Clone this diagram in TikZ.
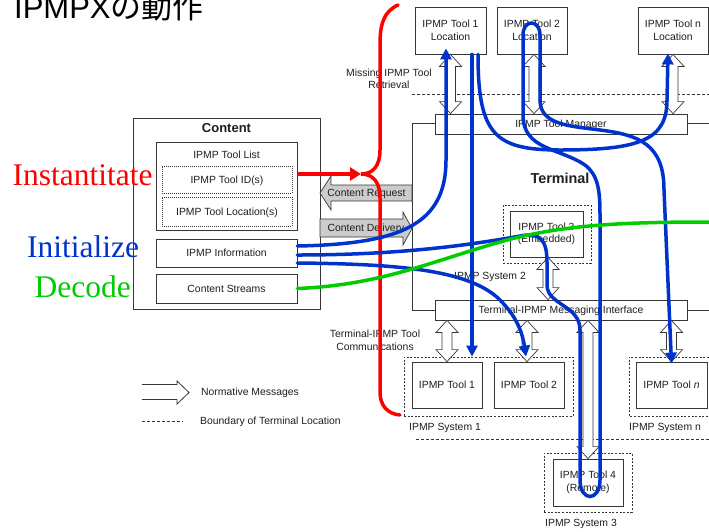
\documentclass[tikz,border=0pt]{standalone}
\usepackage{fontspec}
\setmainfont{Liberation Sans}
\newfontfamily\romanfont{Liberation Serif}
\newfontfamily\cjkfont{Noto Sans CJK JP}
\usetikzlibrary{arrows.meta,calc}

\definecolor{flowred}{RGB}{255,0,0}
\definecolor{flowblue}{RGB}{0,51,204}
\definecolor{flowgreen}{RGB}{0,204,0}
\definecolor{ink}{RGB}{30,30,30}
\definecolor{edge}{RGB}{55,55,55}

% vertical hollow double-headed arrow between two points (top first)
\newcommand\hollowpair[2]{%
  \draw[hollow] let \p1=#1, \p2=#2 in
    (\x1,\y1) -- (\x1-11pt,\y1-12pt) -- (\x1-5pt,\y1-12pt) -- (\x1-5pt,\y2+12pt)
    -- (\x1-11pt,\y2+12pt) -- (\x1,\y2) -- (\x1+11pt,\y2+12pt) -- (\x1+5pt,\y2+12pt)
    -- (\x1+5pt,\y1-12pt) -- (\x1+11pt,\y1-12pt) -- cycle;}

\tikzset{
  base/.style={font=\fontsize{10.4}{12.5}\selectfont, text=ink, inner sep=0pt},
  lbl/.style={base, text height=7.5pt, text depth=0pt},
  box/.style={lbl, draw=edge, line width=0.8pt, fill=white},
  box2/.style={base, align=center, draw=edge, line width=0.8pt, fill=white},
  dotbox/.style={lbl, draw=edge, line width=0.8pt, dash pattern=on 1pt off 1pt},
  dashbox/.style={draw=edge, line width=0.8pt, dash pattern=on 2pt off 1.6pt, inner sep=0pt},
  hollow/.style={draw=edge, fill=white, line width=0.7pt, line join=miter},
  bound/.style={draw=edge, line width=0.8pt, dash pattern=on 3pt off 2pt},
  msgarrow/.style={draw=edge, line width=0.7pt, fill=gray!40, line join=miter},
  flow/.style={line width=3.5pt, line cap=round},
  tipb/.style={-{Triangle[length=11pt,width=11pt]}},
  big/.style={font=\romanfont\fontsize{31.5}{36}\selectfont, inner sep=0pt},
}

\begin{document}
\begin{tikzpicture}[x=1pt,y=-1pt]
\useasboundingbox (0,0) rectangle (709,531);

% title
\node[anchor=base west, inner sep=0pt, font=\fontsize{31}{36}\selectfont, text=black]
  (title) at (14,18.5) {IPMPX{\cjkfont の動作}};

% terminal frame and location boundaries
\draw[draw=edge, line width=0.8pt] (709,123) -| (412,310) -- (709,310);
\draw[bound] (412,94) -- (709,94);
\draw[bound] (416,439) -- (709,439);

% content
\node[box, minimum width=187, minimum height=191] (content) at (226.5,213.5) {};
\node[lbl, font=\bfseries\fontsize{13}{15}\selectfont, text height=9.3pt] (contenttitle) at (226.5,128) {Content};
\node[box, minimum width=141, minimum height=88] (toollist) at (226.5,186) {};
\node[lbl] (toollisttitle) at (226.5,155) {IPMP Tool List};
\node[dotbox, minimum width=130, minimum height=27] (toolid) at (227,179.5) {IPMP Tool ID(s)};
\node[dotbox, minimum width=130, minimum height=29] (toolloc) at (227,211.5) {IPMP Tool Location(s)};
\node[box, minimum width=141, minimum height=28] (info) at (226.5,253) {IPMP Information};
\node[box, minimum width=141, minimum height=29] (streams) at (226.5,288.5) {Content Streams};

% content request / delivery
\draw[msgarrow] (412,185) -- (331,185) -- (331,176) -- (320,193) -- (331,210) -- (331,201) -- (412,201) -- cycle;
\node[lbl] (reqlbl) at (366.5,193) {Content Request};
\draw[msgarrow] (320,219) -- (403,219) -- (403,212) -- (412,228.5) -- (403,245) -- (403,237) -- (320,237) -- cycle;
\node[lbl] (dellbl) at (366,228) {Content Delivery};

% terminal
\node[box, minimum width=252, minimum height=20] (manager) at (561,124) {IPMP Tool Manager};
\node[box, minimum width=252, minimum height=20] (msgif) at (561,310) {Terminal-IPMP Messaging Interface};
\node[lbl, font=\bfseries\fontsize{14.4}{17}\selectfont, text height=10.3pt] (termtitle) at (560,178.5) {Terminal};

% tool locations
\node[box2, minimum width=71, minimum height=47] (loc1) at (450.5,30.5) {IPMP Tool 1\\Location};
\node[box2, minimum width=70, minimum height=47] (loc2) at (532,30.5) {IPMP Tool 2\\Location};
\node[box2, minimum width=70, minimum height=47] (locn) at (673,30.5) {IPMP Tool n\\Location};
\node[base, align=center] (retrieval) at (389,79) {Missing IPMP Tool\\Retrieval};

% embedded tool
\node[dashbox, minimum width=88, minimum height=58] (sys2) at (547,234) {};
\node[box2, minimum width=73, minimum height=46] (tool3) at (546.5,234) {IPMP Tool 3\\(Embedded)};
\node[lbl] (sys2lbl) at (490,276) {IPMP System 2};

% IPMP systems
\node[dashbox, minimum width=169, minimum height=59] (sys1) at (488.5,386.5) {};
\node[box, minimum width=70, minimum height=46] (tool1) at (447,385) {IPMP Tool 1};
\node[box, minimum width=70, minimum height=46] (tool2) at (529,385) {IPMP Tool 2};
\node[lbl, anchor=west] (sys1lbl) at (409,427) {IPMP System 1};

\draw[draw=edge, line width=0.8pt, dash pattern=on 2pt off 1.6pt] (709,357) -| (629,416) -- (709,416);
\node[box, minimum width=71, minimum height=46] (tooln) at (671.5,385) {IPMP Tool \textit{n}};
\node[lbl, anchor=west] (sysnlbl) at (629,427) {IPMP System n};

\node[dashbox, minimum width=88, minimum height=59] (sys3) at (588,482.5) {};
\node[box2, minimum width=70, minimum height=47] (tool4) at (588,482.5) {IPMP Tool 4\\(Remote)};
\node[lbl] (sys3lbl) at (581,523) {IPMP System 3};

\node[base, align=center] (commlbl) at (375,340.5) {Terminal-IPMP Tool\\Communications};

% normative messages
\hollowpair{(loc1.south)}{(loc1.south |- manager.north)}
\hollowpair{($(loc2.south)+(2,0)$)}{($(loc2.south |- manager.north)+(2,0)$)}
\hollowpair{(locn.south)}{(locn.south |- manager.north)}
\hollowpair{($(tool3.south)+(1.5,0)$)}{($(tool3.south |- msgif.north)+(1.5,0)$)}
\hollowpair{(tool1.north |- msgif.south)}{(tool1.north)}
\hollowpair{($(tool2.north |- msgif.south)+(-2,0)$)}{($(tool2.north)+(-2,0)$)}
\hollowpair{(tooln.north |- msgif.south)}{(tooln.north)}
\hollowpair{(tool4.north |- msgif.south)}{(tool4.north)}

% legend
\draw[draw=edge, line width=0.8pt, fill=white] (142,384.5) -- (177,384.5) -- (177,381) -- (189,392.5) -- (177,404) -- (177,399.5) -- (142,399.5);
\node[lbl, anchor=west] (legarrow) at (201,392) {Normative Messages};
\draw[bound] (142,421) -- (183,421);
\node[lbl, anchor=west] (legbound) at (200,421) {Boundary of Terminal Location};

% instantiate
\coordinate (redstart) at ($(toollist.east)+(0,-12)$);
\coordinate (redtop) at (398,5);
\coordinate (redbot) at (400,415);
\coordinate (redjoin) at (361,174);
\draw[flow, flowred] (redtop) .. controls (383,12) and (380,25) .. (380,45) -- (380,150)
  .. controls (380,166) and (373,174) .. (redjoin)
  .. controls (373,174) and (380,182) .. (380,198) -- (380,392)
  .. controls (380,406) and (388,414) .. (redbot);
\draw[flow, flowred, line cap=butt, -{Triangle[length=11pt,width=13pt]}] (redstart) -- (redjoin);

% initialize
\draw[flow, flowblue, tipb] ($(info.east)+(0,-7)$) .. controls (400,244) and (446,225) .. (446,160)
  -- ($(loc1.south)+(-4.5,-6)$);
\draw[flow, flowblue, tipb] ($(loc1.south)+(21.5,0)$) -- ($(tool1.north)+(25,-5)$);
\draw[flow, flowblue, tipb] ($(loc1.south)+(27.5,0)$) .. controls (478,135) and (495,150) .. (560,150)
  .. controls (640,150) and (667,140) .. (667,100) -- ($(locn.south)+(-5,-1)$);
\draw[flow, flowblue, tipb] ($(info.east)+(0,2)$) .. controls (400,255) and (470,245) .. (520,236)
  .. controls (540,232) and (547,240) .. (547,262) -- (547,285)
  .. controls (547,305) and (580,305) .. (580,330) -- (580,480)
  .. controls (580,502) and (600,502) .. (600,480) -- (600,215)
  .. controls (600,190) and (598,175) .. (585,165)
  .. controls (560,148) and (523,150) .. (523,115) -- (523,35)
  .. controls (523,19) and (540,19) .. (540,35) -- (540,100)
  .. controls (540,125) and (570,126) .. (600,130)
  .. controls (640,135) and (664,145) .. (664,190) -- ($(tooln.north)+(0,2)$);
\draw[flow, flowblue, tipb] ($(info.east)+(0,10)$) .. controls (400,264) and (470,270) .. (500,300)
  .. controls (515,315) and (522,330) .. ($(tool2.north)+(-3,-5)$);

% decode
\draw[flow, flowgreen, -{Triangle[length=11pt,width=12pt]}] (streams.east)
  .. controls (380,285) and (430,262) .. (500,242)
  .. controls (560,225) and (620,222) .. (720,222);

% phase labels
\node[big, text=flowred, anchor=base west] (instlbl) at (12.5,185) {Instantitate};
\node[big, text=flowblue, anchor=base west] (initlbl) at (27,257.5) {Initialize};
\node[big, text=flowgreen, anchor=base west] (declbl) at (34.5,297) {Decode};
\end{tikzpicture}
\end{document}
